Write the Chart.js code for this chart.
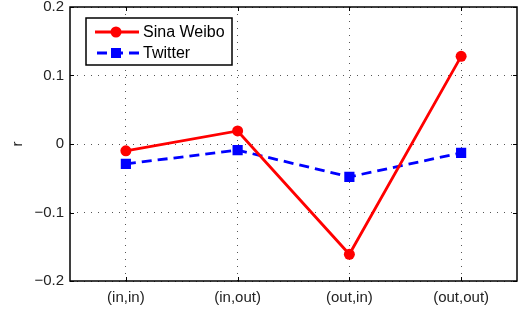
<!DOCTYPE html>
<html>
<head>
<meta charset="utf-8">
<script src="https://cdn.jsdelivr.net/npm/chart.js@4"></script>
<style>
  html, body { margin: 0; padding: 0; background: #fff; }
</style>
</head>
<body>
<canvas id="myChart" width="519" height="310"></canvas>
<script>
const categories = ['(in,in)', '(in,out)', '(out,in)', '(out,out)'];
const sinaWeibo = [-0.010, 0.019, -0.161, 0.128];
const twitter = [-0.029, -0.009, -0.048, -0.013];
const yTicks = [-0.2, -0.1, 0, 0.1, 0.2];

const FONT = 'Liberation Sans, Arial, Helvetica, sans-serif';

// frame box + inward ticks, matlab style
const framePlugin = {
  id: 'frame',
  afterDraw(chart) {
    const { ctx, chartArea: a, scales } = chart;
    ctx.save();
    ctx.strokeStyle = '#000';
    ctx.lineWidth = 1.5;
    ctx.strokeRect(a.left, a.top, a.right - a.left, a.bottom - a.top);
    ctx.lineWidth = 1;
    ctx.beginPath();
    categories.forEach((c, i) => {
      const x = Math.round(scales.x.getPixelForValue(i)) + 0.5;
      ctx.moveTo(x, a.bottom); ctx.lineTo(x, a.bottom - 4);
      ctx.moveTo(x, a.top); ctx.lineTo(x, a.top + 4);
    });
    yTicks.forEach(v => {
      const y = Math.round(scales.y.getPixelForValue(v)) + 0.5;
      ctx.moveTo(a.left, y); ctx.lineTo(a.left + 4, y);
      ctx.moveTo(a.right, y); ctx.lineTo(a.right - 4, y);
    });
    ctx.stroke();
    ctx.restore();
  }
};

// legend drawn inside the plot, top left
const boxLegend = {
  id: 'boxLegend',
  afterDraw(chart) {
    const { ctx } = chart;
    const x0 = 86, y0 = 18, w = 146, h = 47;
    ctx.save();
    ctx.fillStyle = '#fff';
    ctx.fillRect(x0, y0, w, h);
    ctx.strokeStyle = '#000';
    ctx.lineWidth = 1.5;
    ctx.strokeRect(x0, y0, w, h);
    const rows = [
      { ds: chart.data.datasets[0], y: 32 },
      { ds: chart.data.datasets[1], y: 53 }
    ];
    rows.forEach(r => {
      ctx.strokeStyle = r.ds.borderColor;
      ctx.lineWidth = r.ds.borderWidth;
      ctx.setLineDash(r.ds.borderDash || []);
      ctx.lineDashOffset = -2;
      ctx.beginPath();
      ctx.moveTo(95, r.y); ctx.lineTo(139, r.y);
      ctx.stroke();
      ctx.setLineDash([]);
      ctx.fillStyle = r.ds.borderColor;
      if (r.ds.pointStyle === 'rect') {
        ctx.fillRect(111, r.y - 5, 10, 10);
      } else {
        ctx.beginPath();
        ctx.arc(116, r.y, 5.5, 0, Math.PI * 2);
        ctx.fill();
      }
      ctx.fillStyle = '#000';
      ctx.font = '16px ' + FONT;
      ctx.textBaseline = 'middle';
      ctx.fillText(r.ds.label, 143, r.y + 1);
    });
    ctx.restore();
  }
};

new Chart(document.getElementById('myChart'), {
  type: 'line',
  data: {
    labels: categories,
    datasets: [{
      label: 'Sina Weibo',
      data: sinaWeibo,
      borderColor: '#ff0000',
      backgroundColor: '#ff0000',
      borderWidth: 2.8,
      pointStyle: 'circle',
      pointRadius: 5.5,
      pointBorderWidth: 0,
      tension: 0
    }, {
      label: 'Twitter',
      data: twitter,
      borderColor: '#0000ff',
      backgroundColor: '#0000ff',
      borderWidth: 2.8,
      borderDash: [10, 6],
      pointStyle: 'rect',
      pointRadius: 7.2,
      pointBorderWidth: 0,
      tension: 0
    }]
  },
  options: {
    responsive: false,
    animation: false,
    devicePixelRatio: 1,
    layout: { autoPadding: false, padding: { top: 7, right: 2, left: 0, bottom: 0 } },
    plugins: {
      legend: { display: false },
      tooltip: { enabled: false }
    },
    scales: {
      x: {
        type: 'category',
        offset: true,
        grid: { color: '#555', drawTicks: false, offset: false, lineWidth: 1 },
        border: { display: false, dash: [1, 6] },
        ticks: { color: '#222', font: { family: FONT, size: 15 }, padding: 8 },
        afterFit(s) { s.height = 29; s.paddingLeft = 0; s.paddingRight = 0; }
      },
      y: {
        min: -0.2,
        max: 0.2,
        afterBuildTicks(s) { s.ticks = yTicks.map(v => ({ value: v })); },
        grid: { color: '#555', drawTicks: false, lineWidth: 1 },
        border: { display: false, dash: [1, 6] },
        ticks: {
          color: '#222',
          font: { family: FONT, size: 15 },
          padding: 6,
          callback: v => v === 0 ? '0' : (v < 0 ? '\u2212' : '') + Math.abs(v).toFixed(1)
        },
        title: { display: true, text: 'r', color: '#222', font: { family: FONT, size: 15 }, padding: { top: 9, bottom: 0 } },
        afterFit(s) { s.width = 70; s.paddingTop = 0; s.paddingBottom = 0; }
      }
    }
  },
  plugins: [framePlugin, boxLegend]
});
</script>
</body>
</html>
